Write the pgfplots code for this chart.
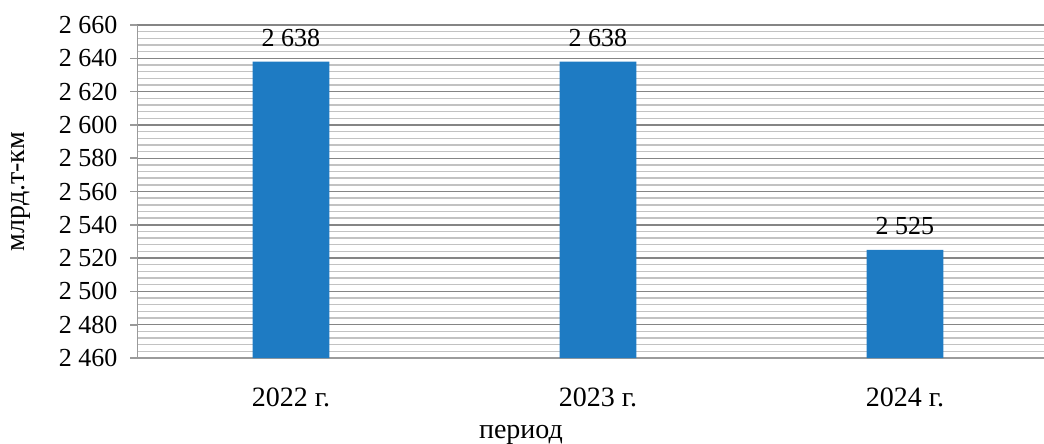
\documentclass[border=0pt]{standalone}
\usepackage{pgfplots}
\pgfplotsset{compat=1.18}
\usepackage{fontspec}
\setmainfont{Liberation Serif}
\definecolor{barblue}{HTML}{1E7BC3}
\definecolor{majgrid}{HTML}{858585}
\definecolor{mingrid}{HTML}{C2C2C2}
\definecolor{axgray}{HTML}{9A9A9A}
\begin{document}
\begin{tikzpicture}
\begin{axis}[
  scale only axis,
  width=453.25pt, height=166.5pt,
  ymin=2460, ymax=2660,
  ytick={2460,2480,...,2660},
  minor y tick num=4,
  xmin=-0.5, xmax=2.453,
  xtick={0,1,2},
  xticklabels={2022 г.,2023 г.,2024 г.},
  axis x line*=bottom,
  axis y line*=left,
  axis line style={axgray, line width=0.8pt},
  ymajorgrids, yminorgrids,
  major grid style={majgrid, line width=0.7pt},
  minor grid style={mingrid, line width=0.7pt},
  y tick style={axgray, line width=0.8pt},
  major tick length=3.5pt,
  minor tick length=0pt,
  x tick style={draw=none},
  tick align=outside,
  ytick pos=left,
  yticklabel style={font=\fontsize{13}{13}\selectfont, xshift=-3pt},
  xticklabel style={font=\fontsize{14}{14}\selectfont, yshift=-8pt},
  /pgf/number format/.cd, 1000 sep={\ }, assume math mode=true,
  /pgfplots/.cd,
  ylabel={млрд.т-км},
  ylabel style={font=\fontsize{14}{14}\selectfont, at={(axis description cs:-0.1285,0.5)}, anchor=center},
  xlabel={период},
  xlabel style={font=\fontsize{14}{14}\selectfont, at={(axis description cs:0.423,0)}, anchor=base, yshift=-40pt},
  ybar, bar width=0.25,
  nodes near coords,
  every node near coord/.append style={font=\fontsize{13}{13}\selectfont, yshift=4pt,
    /pgf/number format/1000 sep={\ }, /pgf/number format/assume math mode=true},
  clip=false,
]
\addplot[fill=barblue, draw=none] coordinates {(0,2638) (1,2638) (2,2525)};
\end{axis}
\pgfresetboundingbox
\path[use as bounding box] (current axis.south west) ++(-68.75pt,-43pt) rectangle ([yshift=12.5pt]current axis.north east);
\end{tikzpicture}
\end{document}
